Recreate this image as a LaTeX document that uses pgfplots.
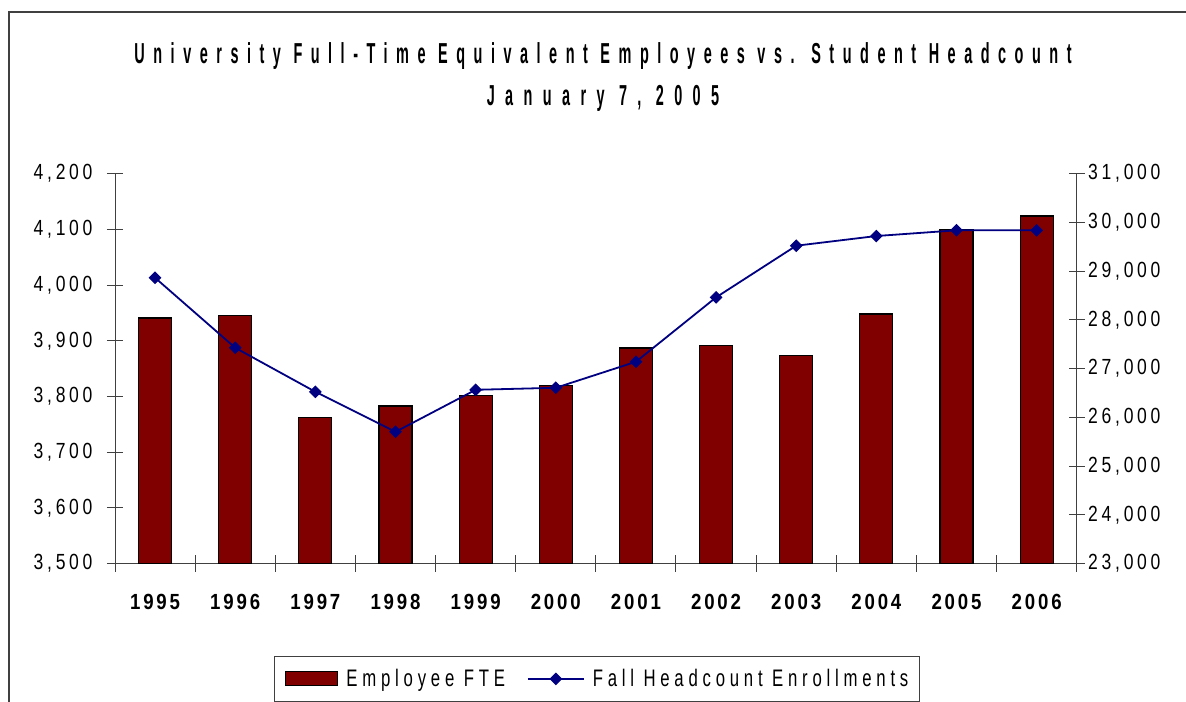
\documentclass[border=0pt]{standalone}
\usepackage{fontspec}
\setmainfont{Liberation Sans}
\newfontfamily\titlefont[FakeStretch=0.5,LetterSpace=29.5]{Liberation Sans}
\newfontfamily\titlefontb[FakeStretch=0.5,LetterSpace=36]{Liberation Sans}
\newfontfamily\tickfont[FakeStretch=0.8,LetterSpace=17]{Liberation Sans}
\newfontfamily\xtickfont[FakeStretch=0.85,LetterSpace=13]{Liberation Sans}
\newfontfamily\legfont[FakeStretch=0.7,LetterSpace=20]{Liberation Sans}
\usepackage{pgfplots}
\pgfplotsset{compat=1.18}
\definecolor{barred}{RGB}{128,0,0}
\definecolor{navyblue}{RGB}{0,0,128}
\definecolor{axgray}{RGB}{64,64,64}
\pgfplotsset{
  mylineleg/.style={legend image code/.code={\draw[mark repeat=2,mark phase=2,##1] plot coordinates {(0bp,0bp) (28bp,0bp) (56bp,0bp)};}},
  mybarleg/.style={legend image code/.code={\draw[fill=barred,draw=black,line width=1bp] (0bp,-7bp) rectangle (52bp,7bp);}}
}
\begin{document}
\begin{tikzpicture}
\path[use as bounding box] (0,0) rectangle (1186bp,702bp);
\draw[line width=2bp, color=axgray] (9bp,0bp) -- (9bp,690bp) -- (1186bp,690bp);
\node[font=\titlefont\bfseries\fontsize{29}{29}\selectfont] at (603bp,646bp) {University Full-Time Equivalent Employees vs. Student Headcount};
\node[font=\titlefontb\bfseries\fontsize{29}{29}\selectfont] at (603bp,604bp) {January 7, 2005};
\begin{axis}[
  at={(115bp,138.5bp)}, anchor=south west,
  scale only axis, width=961.7bp, height=389.8bp,
  xmin=-0.5, xmax=11.5, ymin=3500, ymax=4200,
  axis x line=bottom, axis y line=left,
  axis line style={-, axgray, line width=1bp},
  xtick={-0.5,0.5,...,11.5}, x tick label as interval,
  xticklabels={1995,1996,1997,1998,1999,2000,2001,2002,2003,2004,2005,2006},
  ytick={3500,3600,...,4200},
  scaled y ticks=false,
  tick align=center, major tick length=16bp,
  tick style={axgray, line width=1bp},
  /pgf/number format/assume math mode=true,
  /pgf/number format/1000 sep={,},
  yticklabel style={font=\tickfont\fontsize{22}{22}\selectfont, anchor=east, xshift=-11bp},
  xticklabel style={font=\xtickfont\bfseries\fontsize{22}{22}\selectfont, yshift=-19bp},
]
\addplot[ybar, bar width=33bp, fill=barred, draw=black, line width=1.2bp] coordinates {
(0,3941) (1,3945) (2,3762) (3,3783) (4,3801) (5,3819) (6,3887) (7,3891) (8,3873) (9,3948) (10,4100) (11,4124)};
\end{axis}
\begin{axis}[
  at={(115bp,138.5bp)}, anchor=south west,
  scale only axis, width=961.7bp, height=389.8bp,
  xmin=-0.5, xmax=11.5, ymin=23000, ymax=31000,
  axis x line=none, axis y line=right,
  axis line style={-, axgray, line width=1bp},
  ytick={23000,24000,...,31000},
  scaled y ticks=false,
  tick align=center, major tick length=16bp,
  tick style={axgray, line width=1bp},
  /pgf/number format/assume math mode=true,
  /pgf/number format/1000 sep={,},
  yticklabel style={font=\tickfont\fontsize{22}{22}\selectfont, anchor=west},
  legend style={at={(0.1653,-0.2373)}, anchor=north west, draw=axgray, line width=1bp,
    inner xsep=11bp, inner ysep=13bp, legend columns=2,
    font=\legfont\fontsize{24}{24}\selectfont, nodes={inner sep=0bp},
    /tikz/every odd column/.append style={column sep=8bp},
    /tikz/every even column/.append style={column sep=22bp}},
  legend cell align=left,
]
\addlegendimage{mybarleg}
\addlegendentry{Employee FTE}
\addplot[navyblue, line width=1.8bp, mark=square*, mark size=4bp,
  mark options={rotate=45, fill=navyblue, line width=1bp}, mylineleg]
coordinates {
(0,28864) (1,27427) (2,26524) (3,25702) (4,26565) (5,26606) (6,27140) (7,28462) (8,29522) (9,29721) (10,29838) (11,29838)};
\addlegendentry{Fall Headcount Enrollments}
\end{axis}
\end{tikzpicture}
\end{document}
